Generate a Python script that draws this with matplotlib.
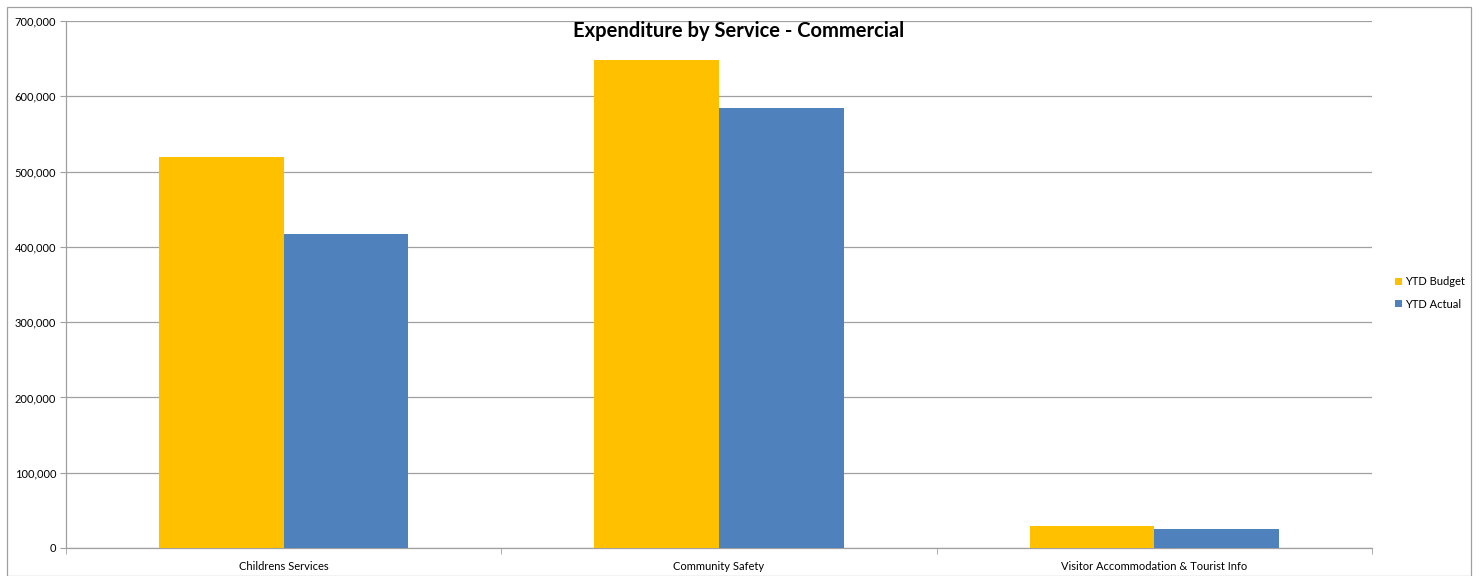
import numpy as np
import matplotlib.pyplot as plt
from matplotlib.patches import Rectangle
from matplotlib.ticker import FuncFormatter

categories = ['Childrens Services', 'Community Safety', 'Visitor Accommodation & Tourist Info']
ytd_budget = [519000, 648000, 29600]
ytd_actual = [417000, 584000, 25200]
series_names = ['YTD Budget', 'YTD Actual']
colors = ['#FFC000', '#4F81BD']

plt.rcParams['font.family'] = ['Lato', 'DejaVu Sans']

fig = plt.figure(figsize=(14.83, 5.76), dpi=100)
ax = fig.add_axes([66 / 1483, 1 - 548 / 576, (1372 - 66) / 1483, (548 - 21) / 576])

x = np.arange(len(categories))
w = 0.286
ax.bar(x - w / 2, ytd_budget, w, color=colors[0], label=series_names[0], zorder=3)
ax.bar(x + w / 2, ytd_actual, w, color=colors[1], label=series_names[1], zorder=3)

ax.set_xlim(-0.5, len(categories) - 0.5)
ax.set_ylim(0, 700000)
ax.set_yticks(np.arange(0, 700001, 100000))
ax.yaxis.set_major_formatter(FuncFormatter(lambda v, p: f'{int(v):,}'))
ax.grid(axis='y', color='#a0a0a0', linewidth=0.9, zorder=0)

ax.set_xticks(x)
ax.set_xticklabels(categories)
ax.set_xticks(np.arange(-0.5, len(categories) + 0.5, 1), minor=True)
ax.tick_params(axis='x', which='major', length=0, pad=9, labelsize=8)
ax.tick_params(axis='x', which='minor', length=4, color='#a0a0a0')
ax.tick_params(axis='y', length=4, color='#a0a0a0', labelsize=8, pad=3)

for s in ['top', 'right']:
    ax.spines[s].set_visible(False)
for s in ['left', 'bottom']:
    ax.spines[s].set_color('#a0a0a0')
    ax.spines[s].set_linewidth(0.9)

fig.text(739 / 1483, 1 - 31 / 576, 'Expenditure by Service - Commercial',
         ha='center', va='center', fontsize=14.5, fontweight='bold')

leg = fig.legend(loc='center left', bbox_to_anchor=(1385 / 1483, 1 - 293 / 576),
                 frameon=False, fontsize=8, handlelength=0.6, handleheight=0.6,
                 handletextpad=0.3, labelspacing=1.0)

fig.patches.append(Rectangle((7 / 1483, 0), 1464 / 1483, 1 - 7 / 576,
                             transform=fig.transFigure, fill=False,
                             edgecolor='#a0a0a0', linewidth=0.9))

fig.savefig('out.png', dpi=100)
